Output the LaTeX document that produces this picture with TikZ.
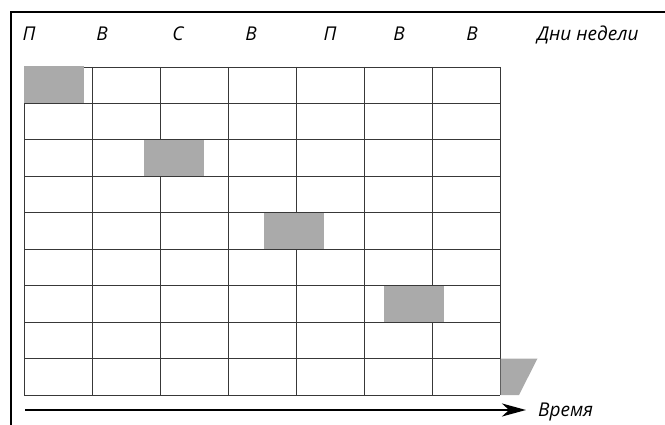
\documentclass[tikz,border=0pt]{standalone}
\usepackage{fontspec}
\setmainfont{Open Sans}
\usetikzlibrary{arrows.meta}
\definecolor{blk}{HTML}{AAAAAA}
\tikzset{
  lbl/.style={font=\fontsize{19}{22}\selectfont\itshape, inner sep=0pt, anchor=base},
  gridline/.style={draw=black!78, line width=0.9pt},
  blockfill/.style={fill=blk, draw=none},
  frameline/.style={line width=1.6pt},
}
\begin{document}
\begin{tikzpicture}[x=1pt,y=-1pt]
\useasboundingbox (0,0) rectangle (665,425);
% frame
\coordinate (ftl) at (11,12);
\coordinate (ftr) at (665,12);
\coordinate (fbl) at (11,425);
\draw[frameline] (ftr) -- (ftl) -- (fbl);
% grid
\foreach \i in {0,...,7} {
  \draw[gridline] ({24+68*\i},67) -- ({24+68*\i},395);
}
\foreach \j in {0,...,9} {
  \draw[gridline] (24,{67+36.44*\j}) -- (500,{67+36.44*\j});
}
% gray blocks
\fill[blockfill] (23.5,66.5) rectangle (84,103);
\fill[blockfill] (144,140.3) rectangle (204,176.3);
\fill[blockfill] (264,213.2) rectangle (324,249.2);
\fill[blockfill] (384,286) rectangle (444,322);
\fill[blockfill] (500.5,358.5) -- (537.5,358.5) -- (519,395) -- (500.5,395) -- cycle;
% day labels
\node[lbl] (d1) at (29,41) {П};
\node[lbl] (d2) at (102,41) {В};
\node[lbl] (d3) at (178,41) {С};
\node[lbl] (d4) at (251,41) {В};
\node[lbl] (d5) at (330,41) {П};
\node[lbl] (d6) at (399,41) {В};
\node[lbl] (d7) at (472,41) {В};
\node[lbl, anchor=base west] (days) at (537,41) {Дни недели};
% time arrow
\coordinate (tstart) at (25,410);
\node[lbl, anchor=base west] (time) at (538,416) {Время};
\coordinate (tend) at (526,410);
\draw[line width=2.2pt, -{Stealth[length=24pt,width=13pt,inset=7pt]}] (tstart) -- (tend);
\end{tikzpicture}
\end{document}
